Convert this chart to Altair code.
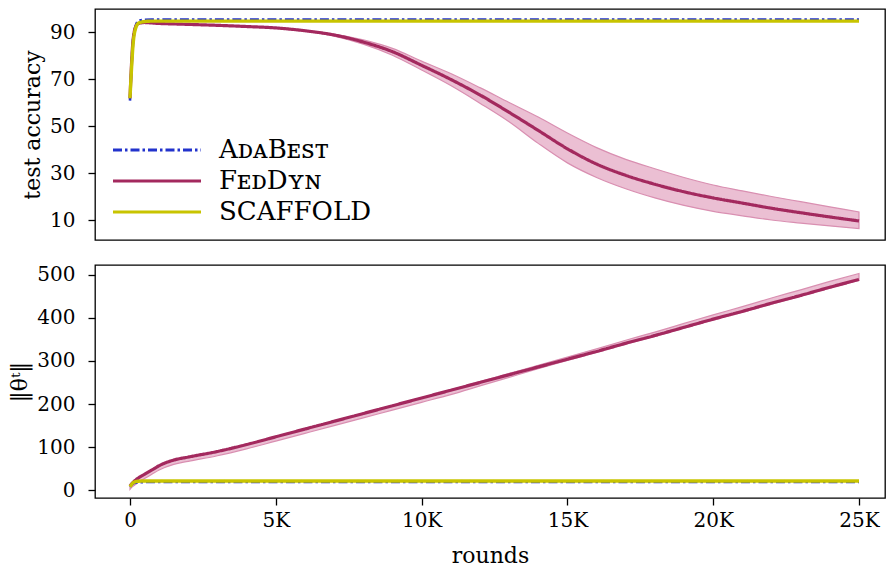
import altair as alt
import pandas as pd

# ---------------- data ----------------
rounds = [0, 50, 100, 200, 300, 500, 750, 1000, 1500, 2000, 3000, 4000, 5000,
          6000, 7000, 8000, 9000, 10000, 11000, 12000, 13000, 14000, 15000,
          16000, 17000, 18000, 19000, 20000, 21000, 22000, 23000, 24000, 25000]

methods = ["AᴅᴀBᴇꜱᴛ", "FᴇᴅDʏɴ", "SCAFFOLD"]
colors = ["#2233cc", "#a3295e", "#c8c400"]
dashes = [[9, 3, 2.5, 3], [1, 0], [1, 0]]

# test accuracy (top panel)
acc_adabest = [61, 75, 86, 93, 95, 95.4, 95.5, 95.5, 95.5, 95.5, 95.5, 95.5, 95.5,
               95.5, 95.5, 95.5, 95.5, 95.5, 95.5, 95.5, 95.5, 95.5, 95.5,
               95.5, 95.5, 95.5, 95.5, 95.5, 95.5, 95.5, 95.5, 95.5, 95.5]
acc_feddyn = [62, 76, 86, 92.5, 93.8, 94.2, 94.0, 93.8, 93.6, 93.4, 93.0, 92.5, 91.9,
              90.7, 88.9, 85.9, 81.8, 76.0, 70.0, 63.4, 56.0, 48.3, 40.5,
              34.0, 29.2, 25.4, 22.2, 19.6, 17.4, 15.2, 13.3, 11.5, 9.8]
acc_feddyn_lo = [62, 76, 86, 92.5, 93.8, 94.2, 94.0, 93.8, 93.6, 93.4, 93.0, 92.5, 91.8,
                 90.5, 88.4, 85.0, 80.3, 74.0, 67.4, 59.9, 52.0, 42.8, 34.5,
                 28.3, 23.5, 19.6, 16.4, 13.9, 12.0, 10.2, 8.9, 7.7, 6.6]
acc_feddyn_hi = [62, 76, 86, 92.5, 93.8, 94.2, 94.0, 93.8, 93.6, 93.4, 93.0, 92.5, 92.0,
                 90.9, 89.3, 86.8, 83.2, 77.8, 72.5, 66.5, 60.2, 54.0, 47.2,
                 41.0, 36.0, 32.0, 28.3, 25.1, 22.6, 20.2, 18.0, 15.8, 13.6]
acc_scaffold = [62, 74, 84, 92, 94, 94.6, 94.8, 94.8, 94.8, 94.8, 94.8, 94.8, 94.8,
                94.8, 94.8, 94.8, 94.8, 94.8, 94.8, 94.8, 94.8, 94.8, 94.8,
                94.8, 94.8, 94.8, 94.8, 94.8, 94.8, 94.8, 94.8, 94.8, 94.8]

# parameter norm (bottom panel)
norm_adabest = [8, 12, 15, 17.5, 18.5, 19, 19.2, 19.3, 19.3, 19.3, 19.3, 19.3, 19.3,
                19.3, 19.3, 19.3, 19.3, 19.3, 19.3, 19.3, 19.3, 19.3, 19.3,
                19.3, 19.3, 19.3, 19.3, 19.3, 19.3, 19.3, 19.3, 19.3, 19.3]
norm_feddyn = [10, 14, 18, 24, 29, 37, 47, 57, 70, 77, 90, 106, 124,
               142, 160, 178, 196, 214, 232, 250, 268, 286, 304,
               322, 341, 359, 378, 397, 415, 434, 452, 471, 489]
norm_feddyn_lo = [2, 6, 9, 14, 19, 27, 37, 47, 60, 67, 80, 96, 114,
                  132, 150, 168, 186, 204, 222, 242, 262, 282, 301,
                  320, 339, 357, 376, 395, 413, 432, 450, 469, 487]
norm_feddyn_hi = [11, 15, 19, 25, 30, 38, 48, 58, 71, 78, 91, 107, 125,
                  143, 161, 179, 197, 215, 233, 252, 271, 290, 309,
                  328, 348, 367, 387, 407, 426, 446, 465, 484.5, 503]
norm_scaffold = [8, 13, 17, 20, 21, 21.5, 21.6, 21.6, 21.6, 21.6, 21.6, 21.6, 21.6,
                 21.6, 21.6, 21.6, 21.6, 21.6, 21.6, 21.6, 21.6, 21.6, 21.6,
                 21.6, 21.6, 21.6, 21.6, 21.6, 21.6, 21.6, 21.6, 21.6, 21.6]

x_ticks = [0, 5000, 10000, 15000, 20000, 25000]
acc_ticks = [10, 30, 50, 70, 90]
norm_ticks = [0, 100, 200, 300, 400, 500]

# ---------------- tables ----------------
def series_df(vals, name):
    return pd.DataFrame({"rounds": rounds, "value": vals, "method": name})

top_lines = {m: series_df(v, m) for m, v in zip(methods, [acc_adabest, acc_feddyn, acc_scaffold])}
bot_lines = {m: series_df(v, m) for m, v in zip(methods, [norm_adabest, norm_feddyn, norm_scaffold])}
top_band = pd.DataFrame({"rounds": rounds, "lo": acc_feddyn_lo, "hi": acc_feddyn_hi})
bot_band = pd.DataFrame({"rounds": rounds, "lo": norm_feddyn_lo, "hi": norm_feddyn_hi})

FONT = "DejaVu Serif"
xscale = alt.Scale(domain=[-1200, 25892], nice=False, zero=False)
cscale = alt.Scale(domain=methods, range=colors)
dscale = alt.Scale(domain=methods, range=dashes)

legend = alt.Legend(
    orient="none", legendX=49, legendY=128, title=None,
    symbolType="M-8,0H8", symbolSize=121, symbolStrokeWidth=3,
    labelFont=FONT, labelFontSize=26, labelColor="black",
    labelOffset=49, rowPadding=5, padding=0,
)

widths = [2.6, 3.2, 3.4]

AX = dict(labelFont=FONT, titleFont=FONT, labelFontSize=20, titleFontSize=22,
          titleFontWeight="normal", labelColor="black", titleColor="black",
          tickColor="black", tickSize=7, tickWidth=1.3, grid=False, domain=False)


def panel(lines, band, ydomain, yaxis, xaxis, height, show_legend):
    ysc = alt.Scale(domain=ydomain, nice=False, zero=False)
    layers = [
        alt.Chart(band).mark_area(
            fill="#ebbfd3", stroke="#d98fb1", strokeWidth=1.2, interpolate="monotone"
        ).encode(
            x=alt.X("rounds:Q", scale=xscale, axis=xaxis),
            y=alt.Y("lo:Q", scale=ysc, axis=yaxis),
            y2="hi:Q",
        )
    ]
    for m, w in zip(methods, widths):
        layers.append(
            alt.Chart(lines[m]).mark_line(strokeWidth=w, interpolate="monotone").encode(
                x=alt.X("rounds:Q", scale=xscale, axis=xaxis),
                y=alt.Y("value:Q", scale=ysc, axis=yaxis),
                color=alt.Color("method:N", scale=cscale, legend=legend if show_legend else None),
                strokeDash=alt.StrokeDash("method:N", scale=dscale, legend=legend if show_legend else None),
            )
        )
    return alt.layer(*layers).properties(width=790, height=height)


top = panel(
    top_lines, top_band, [1.7, 99.95],
    alt.Axis(values=acc_ticks, title="test accuracy", labelPadding=13, titlePadding=5, **AX),
    None, 231, True,
)
bottom = panel(
    bot_lines, bot_band, [-18, 522.6],
    alt.Axis(values=norm_ticks, title="‖θᵗ‖", labelPadding=13, titlePadding=5, **AX),
    alt.Axis(values=x_ticks, title="rounds",
             labelExpr="datum.value == 0 ? '0' : (datum.value / 1000) + 'K'",
             labelPadding=5, titlePadding=15, **AX),
    233, False,
)

chart = alt.vconcat(top, bottom, spacing=23).resolve_scale(
    y="independent", color="independent", strokeDash="independent"
).resolve_legend(color="independent", strokeDash="independent").configure(
    padding=0, background="white",
).configure_view(
    stroke="black", strokeWidth=1.3
)

chart.save("out.html", embed_options={"renderer": "svg", "actions": False})
